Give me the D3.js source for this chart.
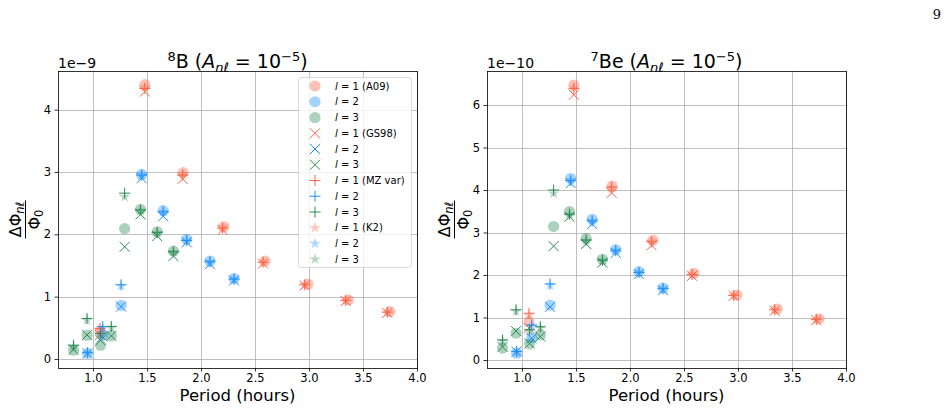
<!DOCTYPE html>
<html>
<head>
<meta charset="utf-8">
<script src="https://cdn.jsdelivr.net/npm/d3@7"></script>
<style>
  body { margin: 0; background: #fff; }
  svg { font-family: "DejaVu Sans", sans-serif; }
</style>
</head>
<body>
<script>
// periods (hours), one array per degree l
const periodsL1 = [1.065, 1.48, 1.835, 2.213, 2.593, 2.99, 3.364, 3.75];
const periodsL1Alt = [1.065, 1.48, 1.83, 2.20, 2.575, 2.96, 3.34, 3.725]; // GS98, MZ var, K2
const periodsL2 = [0.95, 1.09, 1.26, 1.451, 1.65, 1.868, 2.083, 2.306];
const periodsL3 = [0.82, 0.945, 1.07, 1.17, 1.293, 1.44, 1.594, 1.745];

// 8B, in units of 1e-9 : [l=1, l=2, l=3]
const b8A09 = [[0.44, 4.40, 2.99, 2.12, 1.57, 1.20, 0.95, 0.76],
               [0.09, 0.38, 0.86, 2.96, 2.38, 1.92, 1.57, 1.29],
               [0.14, 0.38, 0.22, 0.37, 2.09, 2.40, 2.04, 1.73]];
const b8GS98 = [[0.385, 4.29, 2.89, 2.07, 1.53, 1.18, 0.93, 0.74],
                [0.09, 0.36, 0.84, 2.90, 2.29, 1.87, 1.52, 1.26],
                [0.15, 0.385, 0.30, 0.37, 1.80, 2.32, 1.97, 1.65]];
const b8MZ   = [[0.49, 4.34, 2.95, 2.10, 1.55, 1.19, 0.94, 0.75],
                [0.10, 0.52, 1.19, 2.95, 2.36, 1.90, 1.56, 1.28],
                [0.22, 0.65, 0.41, 0.52, 2.66, 2.39, 2.03, 1.72]];
const b8K2   = [[0.47, 4.36, 2.96, 2.11, 1.56, 1.19, 0.94, 0.75],
                [0.10, 0.50, 1.17, 2.95, 2.36, 1.90, 1.56, 1.28],
                [0.20, 0.62, 0.39, 0.50, 2.60, 2.38, 2.02, 1.72]];

// 7Be, in units of 1e-10
const be7A09 = [[0.90, 6.47, 4.09, 2.82, 2.04, 1.53, 1.20, 0.97],
                [0.16, 0.52, 1.29, 4.27, 3.31, 2.60, 2.08, 1.69],
                [0.28, 0.63, 0.38, 0.59, 3.14, 3.49, 2.86, 2.37]];
const be7GS98 = [[0.75, 6.24, 3.93, 2.70, 1.98, 1.51, 1.16, 0.94],
                 [0.20, 0.51, 1.25, 4.16, 3.20, 2.52, 2.02, 1.64],
                 [0.31, 0.68, 0.39, 0.55, 2.68, 3.37, 2.73, 2.29]];
const be7MZ   = [[1.10, 6.39, 4.07, 2.78, 2.01, 1.52, 1.18, 0.95],
                 [0.20, 0.82, 1.79, 4.22, 3.27, 2.57, 2.06, 1.68],
                 [0.47, 1.18, 0.71, 0.78, 4.00, 3.43, 2.82, 2.35]];
const be7K2   = [[1.05, 6.40, 4.05, 2.79, 2.02, 1.52, 1.18, 0.95],
                 [0.18, 0.80, 1.76, 4.23, 3.28, 2.58, 2.07, 1.68],
                 [0.45, 1.15, 0.69, 0.76, 3.92, 3.42, 2.81, 2.34]];

const xTicks = [1.0, 1.5, 2.0, 2.5, 3.0, 3.5, 4.0];
const colors = ["tomato", "dodgerblue", "seagreen"];
const modelNames = ["A09", "GS98", "MZ var", "K2"];

const W = 947, H = 411;
const plotTop = 71, plotBottom = 368;

const svg = d3.select("body").append("svg")
  .attr("width", W)
  .attr("height", H);

// page number
svg.append("text")
  .attr("x", 941).attr("y", 19)
  .attr("text-anchor", "end")
  .style("font-family", "'DejaVu Serif', serif")
  .style("font-size", "13px")
  .text("9");

const panels = [
  { left: 58, right: 417, ymin: -0.145, ymax: 4.62, yTicks: [0, 1, 2, 3, 4],
    iso: "8", el: "B", exp: "1e\u22129", models: [b8A09, b8GS98, b8MZ, b8K2], legend: true },
  { left: 487, right: 846, ymin: -0.188, ymax: 6.8, yTicks: [0, 1, 2, 3, 4, 5, 6],
    iso: "7", el: "Be", exp: "1e\u221210", models: [be7A09, be7GS98, be7MZ, be7K2], legend: false }
];

function crossPath(h) { return `M${-h},${-h}L${h},${h}M${-h},${h}L${h},${-h}`; }
function plusPath(h) { return `M${-h},0L${h},0M0,${-h}L0,${h}`; }
const starPath = d3.symbol(d3.symbolStar, 40)();

// draws one marker of model m, colour c, into group g at (cx, cy)
function marker(g, m, c, cx, cy) {
  const t = `translate(${cx},${cy})`;
  if (m === 0) {
    g.append("circle").attr("cx", cx).attr("cy", cy).attr("r", 5.6)
      .attr("fill", c).attr("fill-opacity", 0.4);
  } else if (m === 1) {
    g.append("path").attr("d", crossPath(5)).attr("transform", t)
      .attr("stroke", c).attr("stroke-width", 1).attr("fill", "none");
  } else if (m === 2) {
    g.append("path").attr("d", plusPath(5.5)).attr("transform", t)
      .attr("stroke", c).attr("stroke-width", 1).attr("fill", "none");
  } else {
    g.append("path").attr("d", starPath).attr("transform", t)
      .attr("fill", c).attr("fill-opacity", 0.35);
  }
}

panels.forEach(function(p) {
  const x = d3.scaleLinear().domain([0.676, 4.0]).range([p.left, p.right]);
  const y = d3.scaleLinear().domain([p.ymin, p.ymax]).range([plotBottom, plotTop]);
  const g = svg.append("g");

  // grid
  g.append("g").selectAll("line").data(xTicks).enter().append("line")
    .attr("x1", d => Math.round(x(d)) + 0.5).attr("x2", d => Math.round(x(d)) + 0.5)
    .attr("y1", plotTop).attr("y2", plotBottom)
    .attr("stroke", "#b0b0b0").attr("stroke-width", 0.8);
  g.append("g").selectAll("line").data(p.yTicks).enter().append("line")
    .attr("y1", d => Math.round(y(d)) + 0.5).attr("y2", d => Math.round(y(d)) + 0.5)
    .attr("x1", p.left).attr("x2", p.right)
    .attr("stroke", "#b0b0b0").attr("stroke-width", 0.8);

  // points
  const pts = g.append("g");
  p.models.forEach(function(model, m) {
    model.forEach(function(vals, l) {
      const per = l === 0 ? (m === 0 ? periodsL1 : periodsL1Alt) : (l === 1 ? periodsL2 : periodsL3);
      vals.forEach(function(v, i) {
        marker(pts, m, colors[l], x(per[i]), y(v));
      });
    });
  });

  // axes
  const xa = g.append("g").attr("transform", `translate(0,${plotBottom})`)
    .call(d3.axisBottom(x).tickValues(xTicks).tickFormat(d3.format(".1f")).tickSize(3.5).tickPadding(2.5));
  const ya = g.append("g").attr("transform", `translate(${p.left},0)`)
    .call(d3.axisLeft(y).tickValues(p.yTicks).tickFormat(d3.format("d")).tickSize(3.5).tickPadding(3.5));
  [xa, ya].forEach(function(a) {
    a.select(".domain").remove();
    a.selectAll("text").style("font-size", "11.5px").style("font-family", "'DejaVu Sans', sans-serif").attr("fill", "#000");
    a.selectAll("line").attr("stroke", "#000").attr("stroke-width", 0.8);
  });

  // frame
  g.append("rect")
    .attr("x", p.left + 0.5).attr("y", plotTop + 0.5)
    .attr("width", p.right - p.left).attr("height", plotBottom - plotTop)
    .attr("fill", "none").attr("stroke", "#000").attr("stroke-width", 0.8);

  // offset text
  g.append("text").attr("x", p.left).attr("y", plotTop - 3)
    .style("font-size", "14px").text(p.exp);

  // title
  const cx = (p.left + p.right) / 2;
  const title = g.append("text").attr("x", cx).attr("y", plotTop - 3)
    .attr("text-anchor", "middle").style("font-size", "19px");
  title.append("tspan").attr("dy", -7.5).style("font-size", "13px").text(p.iso);
  title.append("tspan").attr("dy", 7.5).text(p.el + " (");
  title.append("tspan").style("font-style", "italic").text("A");
  title.append("tspan").attr("dy", 4).style("font-style", "italic").style("font-size", "13px").text("n\u2113");
  title.append("tspan").attr("dy", -4).text(" = 10");
  title.append("tspan").attr("dy", -7.5).style("font-size", "13px").text("\u22125");
  title.append("tspan").attr("dy", 7.5).text(")");

  // x label
  g.append("text").attr("x", cx).attr("y", 401)
    .attr("text-anchor", "middle").style("font-size", "16.5px").text("Period (hours)");

  // y label (fraction)
  const yl = g.append("g").attr("transform", `translate(${p.left - 33},${(plotTop + plotBottom) / 2}) rotate(-90)`);
  const num = yl.append("text").attr("x", 0).attr("y", -4).attr("text-anchor", "middle").style("font-size", "16px");
  num.append("tspan").text("\u0394\u03a6");
  num.append("tspan").attr("dy", 3).style("font-style", "italic").style("font-size", "11.5px").text("n\u2113");
  yl.append("line").attr("x1", -19).attr("x2", 19).attr("y1", 0.5).attr("y2", 0.5)
    .attr("stroke", "#000").attr("stroke-width", 1);
  const den = yl.append("text").attr("x", 0).attr("y", 15).attr("text-anchor", "middle").style("font-size", "16px");
  den.append("tspan").text("\u03a6");
  den.append("tspan").attr("dy", 3).style("font-size", "11.5px").text("0");

  // legend
  if (p.legend) {
    const lg = g.append("g");
    lg.append("rect")
      .attr("x", 298.5).attr("y", 77.5).attr("width", 113).attr("height", 190)
      .attr("rx", 3).attr("fill", "#fff").attr("fill-opacity", 0.8)
      .attr("stroke", "#d0d0d0").attr("stroke-width", 0.8);
    let k = 0;
    modelNames.forEach(function(name, m) {
      colors.forEach(function(c, l) {
        const ly = 86 + k * 15.75;
        marker(lg, m, c, 315, ly);
        const t = lg.append("text").attr("x", 335).attr("y", ly + 3.5).style("font-size", "10px");
        t.append("tspan").style("font-style", "italic").text("l");
        t.append("tspan").text(" = " + (l + 1) + (l === 0 ? " (" + name + ")" : ""));
        k++;
      });
    });
  }
});
</script>
</body>
</html>
